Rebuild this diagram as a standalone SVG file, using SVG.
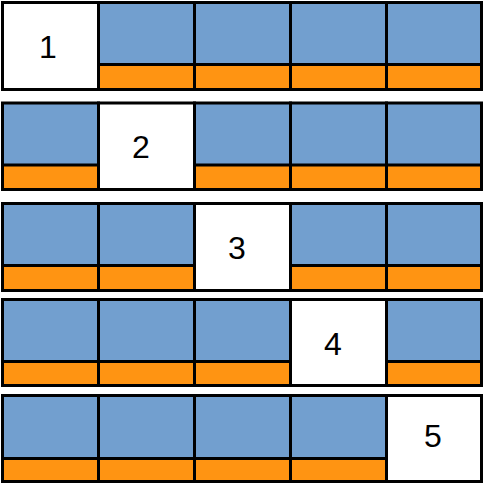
<svg xmlns="http://www.w3.org/2000/svg" width="484" height="484" viewBox="0 0 484 484">
<style>
.b{fill:#729fcf;stroke:#000;stroke-width:3}
.o{fill:#ff9412;stroke:#000;stroke-width:3}
.w{fill:#fff;stroke:#000;stroke-width:3}
.t{font-family:"Liberation Sans",Arial,sans-serif;font-size:32px;fill:#000;text-anchor:middle}
</style>
<rect width="484" height="484" fill="#fff"/>
<!-- row 1 -->
<g id="r1">
<g id="r1c1"><rect class="w" x="2.5" y="2.5" width="96" height="87"/><text class="t" x="48" y="58">1</text></g>
<g id="r1c2"><rect class="b" x="98.5" y="2.5" width="96" height="87"/><rect class="o" x="98.5" y="64.5" width="96" height="25"/></g>
<g id="r1c3"><rect class="b" x="194.5" y="2.5" width="96" height="87"/><rect class="o" x="194.5" y="64.5" width="96" height="25"/></g>
<g id="r1c4"><rect class="b" x="290.5" y="2.5" width="96" height="87"/><rect class="o" x="290.5" y="64.5" width="96" height="25"/></g>
<g id="r1c5"><rect class="b" x="386.5" y="2.5" width="95" height="87"/><rect class="o" x="386.5" y="64.5" width="95" height="25"/></g>
</g>
<!-- row 2 -->
<g id="r2">
<g id="r2c1"><rect class="b" x="2.5" y="103" width="96" height="86.5"/><rect class="o" x="2.5" y="165" width="96" height="24.5"/></g>
<g id="r2c2"><rect class="w" x="98.5" y="103" width="96" height="86.5"/><text class="t" x="141" y="158">2</text></g>
<g id="r2c3"><rect class="b" x="194.5" y="103" width="96" height="86.5"/><rect class="o" x="194.5" y="165" width="96" height="24.5"/></g>
<g id="r2c4"><rect class="b" x="290.5" y="103" width="96" height="86.5"/><rect class="o" x="290.5" y="165" width="96" height="24.5"/></g>
<g id="r2c5"><rect class="b" x="386.5" y="103" width="95" height="86.5"/><rect class="o" x="386.5" y="165" width="95" height="24.5"/></g>
</g>
<!-- row 3 -->
<g id="r3">
<g id="r3c1"><rect class="b" x="2.5" y="203.5" width="96" height="87"/><rect class="o" x="2.5" y="265.5" width="96" height="25"/></g>
<g id="r3c2"><rect class="b" x="98.5" y="203.5" width="96" height="87"/><rect class="o" x="98.5" y="265.5" width="96" height="25"/></g>
<g id="r3c3"><rect class="w" x="194.5" y="203.5" width="96" height="87"/><text class="t" x="237" y="259">3</text></g>
<g id="r3c4"><rect class="b" x="290.5" y="203.5" width="96" height="87"/><rect class="o" x="290.5" y="265.5" width="96" height="25"/></g>
<g id="r3c5"><rect class="b" x="386.5" y="203.5" width="95" height="87"/><rect class="o" x="386.5" y="265.5" width="95" height="25"/></g>
</g>
<!-- row 4 -->
<g id="r4">
<g id="r4c1"><rect class="b" x="2.5" y="299.5" width="96" height="86"/><rect class="o" x="2.5" y="361.5" width="96" height="24"/></g>
<g id="r4c2"><rect class="b" x="98.5" y="299.5" width="96" height="86"/><rect class="o" x="98.5" y="361.5" width="96" height="24"/></g>
<g id="r4c3"><rect class="b" x="194.5" y="299.5" width="96" height="86"/><rect class="o" x="194.5" y="361.5" width="96" height="24"/></g>
<g id="r4c4"><rect class="w" x="290.5" y="299.5" width="96" height="86"/><text class="t" x="333" y="355">4</text></g>
<g id="r4c5"><rect class="b" x="386.5" y="299.5" width="95" height="86"/><rect class="o" x="386.5" y="361.5" width="95" height="24"/></g>
</g>
<!-- row 5 -->
<g id="r5">
<g id="r5c1"><rect class="b" x="2.5" y="395.5" width="96" height="86"/><rect class="o" x="2.5" y="458.5" width="96" height="23"/></g>
<g id="r5c2"><rect class="b" x="98.5" y="395.5" width="96" height="86"/><rect class="o" x="98.5" y="458.5" width="96" height="23"/></g>
<g id="r5c3"><rect class="b" x="194.5" y="395.5" width="96" height="86"/><rect class="o" x="194.5" y="458.5" width="96" height="23"/></g>
<g id="r5c4"><rect class="b" x="290.5" y="395.5" width="96" height="86"/><rect class="o" x="290.5" y="458.5" width="96" height="23"/></g>
<g id="r5c5"><rect class="w" x="386.5" y="395.5" width="95" height="86"/><text class="t" x="433" y="447">5</text></g>
</g>
<g id="connectors"/>
</svg>
